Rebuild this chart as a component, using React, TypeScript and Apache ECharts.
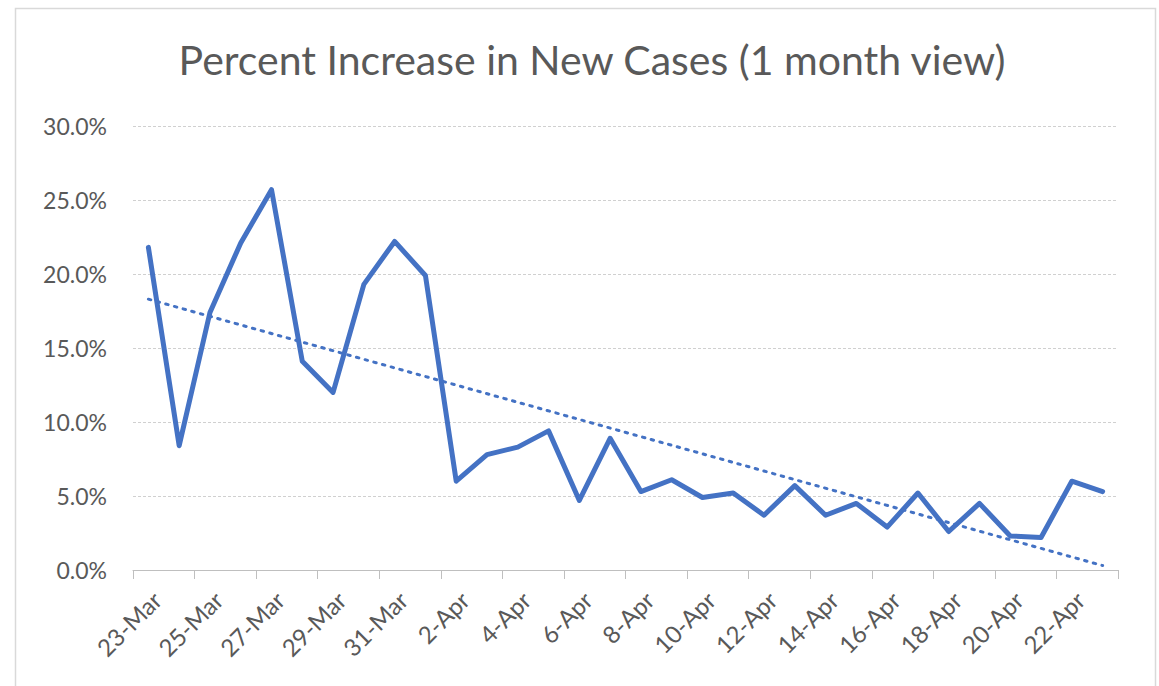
import React, { useEffect, useRef } from "react";
import * as echarts from "echarts";

const categories = [
  "23-Mar", "24-Mar", "25-Mar", "26-Mar", "27-Mar", "28-Mar", "29-Mar", "30-Mar", "31-Mar",
  "1-Apr", "2-Apr", "3-Apr", "4-Apr", "5-Apr", "6-Apr", "7-Apr", "8-Apr", "9-Apr", "10-Apr",
  "11-Apr", "12-Apr", "13-Apr", "14-Apr", "15-Apr", "16-Apr", "17-Apr", "18-Apr", "19-Apr",
  "20-Apr", "21-Apr", "22-Apr", "23-Apr",
];

const percentIncrease = [
  21.8, 8.4, 17.4, 22.1, 25.7, 14.1, 12.0, 19.3, 22.2, 19.9, 6.0, 7.8, 8.3, 9.4, 4.7, 8.9,
  5.3, 6.1, 4.9, 5.2, 3.7, 5.7, 3.7, 4.5, 2.9, 5.2, 2.6, 4.5, 2.3, 2.2, 6.0, 5.3,
];

// Linear trend line end values
const trendStart = 18.3;
const trendEnd = 0.3;

const yTicks = [0, 5, 10, 15, 20, 25, 30];

export default function App() {
  const ref = useRef<HTMLDivElement>(null);
  useEffect(() => {
    if (!ref.current) return;
    const chart = echarts.init(ref.current, null, { renderer: "svg" });
    const font = "Lato, 'Open Sans', sans-serif";
    chart.setOption({
      animation: false,
      backgroundColor: "#ffffff",
      title: {
        text: "Percent Increase in New Cases (1 month view)",
        left: 587,
        textAlign: "center",
        top: 34,
        textStyle: { fontFamily: font, fontSize: 41, fontWeight: "normal", color: "#595959" },
      },
      graphic: [
        {
          type: "rect",
          shape: { x: 15.5, y: 8.5, width: 1140, height: 690 },
          style: { fill: "none", stroke: "#d9d9d9", lineWidth: 1.5 },
          silent: true,
        },
      ],
      grid: { left: 133, right: 41, top: 126, bottom: 116 },
      xAxis: {
        type: "category",
        data: categories,
        boundaryGap: true,
        axisLine: { show: true, lineStyle: { color: "#bfbfbf", width: 1 } },
        axisTick: { show: true, interval: 1, length: 9, lineStyle: { color: "#bfbfbf" } },
        axisLabel: {
          interval: 1,
          rotate: 45,
          margin: 17,
          verticalAlign: "top",
          fontFamily: font,
          fontSize: 24,
          color: "#595959",
        },
      },
      yAxis: {
        type: "value",
        min: 0,
        max: 30,
        interval: 5,
        axisLine: { show: false },
        axisTick: { show: false },
        axisLabel: {
          margin: 26,
          fontFamily: font,
          fontSize: 23,
          color: "#595959",
          formatter: (v: number) => (yTicks.includes(v) ? v.toFixed(1) + "%" : ""),
        },
        splitLine: { lineStyle: { color: "#d0d0d0", type: [3, 2], width: 1.2 } },
      },
      series: [
        {
          type: "line",
          data: percentIncrease,
          symbol: "none",
          lineStyle: { color: "#4472C4", width: 5, join: "round", cap: "round" },
          markLine: {
            silent: true,
            symbol: ["none", "none"],
            label: { show: false },
            lineStyle: { color: "#4472C4", width: 3, type: [2.5, 6.5], cap: "round" },
            data: [
              [
                { coord: [categories[0], trendStart] },
                { coord: [categories[categories.length - 1], trendEnd] },
              ],
            ],
          },
        },
      ],
    });
    return () => chart.dispose();
  }, []);
  return (
    <div
      ref={ref}
      style={{ position: "fixed", left: 0, top: 0, width: 1159, height: 686 }}
    />
  );
}
